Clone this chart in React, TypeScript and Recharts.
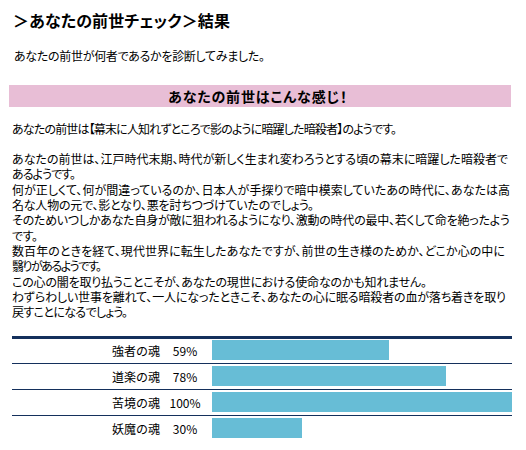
import React from "react";
import { BarChart, Bar, XAxis, YAxis } from "recharts";

const souls = ["強者の魂", "道楽の魂", "苦境の魂", "妖魔の魂"];
const scores = [59, 78, 100, 30];

const pageTitle = "＞あなたの前世チェック＞結果";
const subTitle = "あなたの前世が何者であるかを診断してみました。";
const bannerText = "あなたの前世はこんな感じ！";
const resultLine = "あなたの前世は【幕末に人知れずところで影のように暗躍した暗殺者】のようです。";
const bodyLines = [
  "あなたの前世は、江戸時代末期、時代が新しく生まれ変わろうとする頃の幕末に暗躍した暗殺者で",
  "あるようです。",
  "何が正しくて、何が間違っているのか、日本人が手探りで暗中模索していたあの時代に、あなたは高",
  "名な人物の元で、影となり、悪を討ちつづけていたのでしょう。",
  "そのためいつしかあなた自身が敵に狙われるようになり、激動の時代の最中、若くして命を絶ったよう",
  "です。",
  "数百年のときを経て、現代世界に転生したあなたですが、前世の生き様のためか、どこか心の中に",
  "翳りがあるようです。",
  "この心の闇を取り払うことこそが、あなたの現世における使命なのかも知れません。",
  "わずらわしい世事を離れて、一人になったときこそ、あなたの心に眠る暗殺者の血が落ち着きを取り",
  "戻すことになるでしょう。",
];

// layout (page pixels): right edge of each body line as set in the reference
const bodyLineEnds = [508, 76, 510, 314, 510, 38, 505, 102, 427, 506, 128];

const data = souls.map((name, i) => ({ name, value: scores[i] }));

const FONT = '"Noto Sans CJK JP", "Noto Sans", sans-serif';
const LINE = "#14305c";

const SoulTick = (props: any) => {
  const { y, payload } = props;
  const i = payload?.index ?? props.index ?? 0;
  return (
    <g>
      {i === 0 && <line x1={0} x2={500} y1={y - 12.5} y2={y - 12.5} stroke={LINE} strokeWidth={3} />}
      {i < souls.length - 1 && (
        <line x1={0} x2={500} y1={y + 13.5} y2={y + 13.5} stroke={LINE} strokeWidth={1} />
      )}
      <text x={148} y={y} textAnchor="end" dominantBaseline="central" fontSize={12} fill="#000" fontFamily={FONT}>
        {payload.value}
      </text>
      <text x={173} y={y} textAnchor="middle" dominantBaseline="central" fontSize={12} fill="#000" fontFamily={FONT}>
        {scores[i]}%
      </text>
    </g>
  );
};

const T = ({
  x,
  y,
  w,
  size = 12,
  bold = false,
  children,
}: {
  x: number;
  y: number;
  w: number;
  size?: number;
  bold?: boolean;
  children: React.ReactNode;
}) => (
  <text
    x={x}
    y={y}
    fontSize={size}
    fontWeight={bold ? 700 : 400}
    fill="#000"
    fontFamily={FONT}
    dominantBaseline="central"
    textLength={w}
    lengthAdjust="spacing"
    style={{ fontFeatureSettings: '"palt"' }}
  >
    {children}
  </text>
);

export default function App() {
  return (
    <div
      style={{
        position: "absolute",
        left: 0,
        top: 0,
        width: 526,
        height: 450,
        background: "#fff",
        fontFamily: FONT,
        overflow: "hidden",
      }}
    >
      <svg width={526} height={324} style={{ position: "absolute", left: 0, top: 0 }}>
        <T x={13} y={20} w={217} size={16} bold>
          {pageTitle}
        </T>
        <T x={14} y={55} w={251}>
          {subTitle}
        </T>
        <rect x={9} y={85} width={502} height={22} fill="#e8bed6" />
        <T x={168} y={96} w={179} size={14} bold>
          {bannerText}
        </T>
        <T x={12} y={128} w={385}>
          {resultLine}
        </T>
        {bodyLines.map((l, i) => (
          <T key={i} x={12} y={158.6 + 15.3 * i} w={bodyLineEnds[i] - 12}>
            {l}
          </T>
        ))}
      </svg>
      <div style={{ position: "absolute", left: 12, top: 324 }}>
        <BarChart
          width={500}
          height={130}
          data={data}
          layout="vertical"
          margin={{ top: 13, right: 0, bottom: 13, left: 0 }}
          barSize={20}
        >
          <XAxis type="number" domain={[0, 100]} hide />
          <YAxis
            type="category"
            dataKey="name"
            width={200}
            axisLine={false}
            tickLine={false}
            tick={SoulTick}
            interval={0}
          />
          <Bar dataKey="value" fill="#67bdd6" isAnimationActive={false} />
        </BarChart>
      </div>
    </div>
  );
}
